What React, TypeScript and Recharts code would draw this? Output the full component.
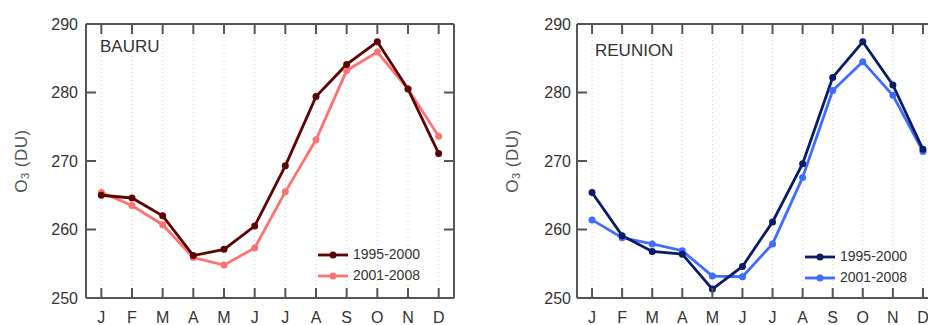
import React from 'react';
import { LineChart, Line, XAxis, YAxis, CartesianGrid, Legend, Label } from 'recharts';

const months = ['J', 'F', 'M', 'A', 'M', 'J', 'J', 'A', 'S', 'O', 'N', 'D'];
const yTicks = [250, 260, 270, 280, 290];
const periods = ['1995-2000', '2001-2008'];

const bauru1995 = [265.0, 264.6, 262.0, 256.2, 257.1, 260.5, 269.3, 279.4, 284.1, 287.4, 280.5, 271.1];
const bauru2001 = [265.4, 263.5, 260.7, 255.9, 254.8, 257.3, 265.5, 273.1, 283.2, 285.9, 280.5, 273.6];
const reunion1995 = [265.4, 259.1, 256.8, 256.4, 251.3, 254.6, 261.1, 269.6, 282.2, 287.4, 281.1, 271.7];
const reunion2001 = [261.4, 258.8, 257.9, 256.9, 253.2, 253.1, 257.9, 267.6, 280.3, 284.5, 279.6, 271.4];

const FONT = '"Liberation Sans", Arial, sans-serif';
const AX = '#555';
const TXT = '#333';
const TS = 6;
const TM = 2;
const IN = 10;

const BottomTick = (props: any) => {
  const { x, y, payload } = props;
  const base = y - TS - TM;
  return (
    <g>
      <line x1={x} x2={x} y1={base} y2={base - IN} stroke={AX} strokeWidth={2} />
      <text x={x} y={base + 25} textAnchor="middle" fontSize={16} fill={TXT} fontFamily={FONT}>
        {months[payload.value]}
      </text>
    </g>
  );
};

const TopTick = (props: any) => {
  const { x, y } = props;
  const base = y + TS + TM;
  return <line x1={x} x2={x} y1={base} y2={base + IN} stroke={AX} strokeWidth={2} />;
};

const makeLeftTick = (gap: number) => (props: any) => {
  const { x, y, payload } = props;
  const base = x + TS + TM;
  return (
    <g>
      <line x1={base} x2={base + IN} y1={y} y2={y} stroke={AX} strokeWidth={2} />
      <text x={base - gap} y={y} dy="0.36em" textAnchor="end" fontSize={16} fill={TXT} fontFamily={FONT}>
        {payload.value}
      </text>
    </g>
  );
};

const RightTick = (props: any) => {
  const { x, y } = props;
  const base = x - TS - TM;
  return <line x1={base} x2={base - IN} y1={y} y2={y} stroke={AX} strokeWidth={2} />;
};

const YLab = (props: any) => {
  const vb = props.viewBox || { x: 0, y: 24, width: 86, height: 274 };
  const cx = vb.x + 21;
  const cy = vb.y + vb.height / 2;
  return (
    <text
      x={cx}
      y={cy}
      transform={`rotate(-90 ${cx} ${cy})`}
      textAnchor="middle"
      dominantBaseline="central"
      fontSize={17}
      letterSpacing={0.5}
      fill="#555"
      fontFamily={FONT}
    >
      O<tspan fontSize={11} dy={4}>3</tspan>
      <tspan dy={-4}> (DU)</tspan>
    </text>
  );
};

const LegendContent = (props: any) => {
  const items = [...(props.payload || [])].sort((a: any, b: any) =>
    String(a.value).localeCompare(String(b.value))
  );
  return (
    <div style={{ fontFamily: FONT, fontSize: 14, color: TXT }}>
      {items.map((p: any) => (
        <div key={p.value} style={{ display: 'flex', alignItems: 'center', height: 21 }}>
          <svg width={30} height={10} style={{ display: 'block' }}>
            <line x1={0} x2={30} y1={5} y2={5} stroke={p.color} strokeWidth={2.8} />
            <circle cx={15} cy={5} r={3.5} fill={p.color} />
          </svg>
          <span style={{ marginLeft: 5, lineHeight: '21px' }}>{p.value}</span>
        </div>
      ))}
    </div>
  );
};

type PanelProps = {
  left: number;
  plotWidth: number;
  name: string;
  nameTop: number;
  nameLeft: number;
  s1: number[];
  s2: number[];
  c1: string;
  c2: string;
  legendLeft: number;
  legendTop: number;
  tickGap: number;
};

const Panel = (p: PanelProps) => {
  const data = months.map((m, i) => ({ i, a: p.s1[i], b: p.s2[i] }));
  const yw = 86;
  const rw = 10;
  const width = yw + p.plotWidth + rw;
  const pad = p.plotWidth / 24;
  return (
    <div style={{ position: 'absolute', left: p.left, top: 0, width, height: 325 }}>
      <LineChart width={width} height={325} data={data} margin={{ top: 0, right: 0, bottom: 0, left: 0 }}>
        <CartesianGrid horizontal={false} stroke="#cfcfcf" strokeDasharray="1 3" />
        <XAxis
          dataKey="i"
          type="category"
          height={27}
          interval={0}
          padding={{ left: pad, right: pad }}
          tickSize={TS}
          tickMargin={TM}
          tickLine={false}
          tick={BottomTick}
          axisLine={{ stroke: AX, strokeWidth: 2 }}
        />
        <XAxis
          xAxisId="top"
          dataKey="i"
          type="category"
          orientation="top"
          height={24}
          interval={0}
          padding={{ left: pad, right: pad }}
          tickSize={TS}
          tickMargin={TM}
          tickLine={false}
          tick={TopTick}
          axisLine={{ stroke: AX, strokeWidth: 2 }}
        />
        <YAxis
          width={yw}
          domain={[250, 290]}
          ticks={yTicks}
          interval={0}
          allowDataOverflow
          tickSize={TS}
          tickMargin={TM}
          tickLine={false}
          tick={makeLeftTick(p.tickGap)}
          axisLine={{ stroke: AX, strokeWidth: 2 }}
        >
          <Label content={YLab} />
        </YAxis>
        <YAxis
          yAxisId="r"
          orientation="right"
          width={rw}
          domain={[250, 290]}
          ticks={yTicks}
          interval={0}
          allowDataOverflow
          tickSize={TS}
          tickMargin={TM}
          tickLine={false}
          tick={RightTick}
          axisLine={{ stroke: AX, strokeWidth: 2 }}
        />
        <Legend
          layout="vertical"
          align="center"
          verticalAlign="middle"
          content={LegendContent}
          wrapperStyle={{ position: 'absolute', left: p.legendLeft, top: p.legendTop, width: 'auto' }}
        />
        <Line
          dataKey="b"
          name={periods[1]}
          stroke={p.c2}
          strokeWidth={2.8}
          dot={{ r: 3.5, fill: p.c2, stroke: p.c2, strokeWidth: 0 }}
          isAnimationActive={false}
        />
        <Line
          dataKey="a"
          name={periods[0]}
          stroke={p.c1}
          strokeWidth={2.8}
          dot={{ r: 3.5, fill: p.c1, stroke: p.c1, strokeWidth: 0 }}
          isAnimationActive={false}
        />
      </LineChart>
      <div
        style={{
          position: 'absolute',
          left: p.nameLeft,
          top: p.nameTop,
          fontFamily: FONT,
          fontSize: 17,
          lineHeight: '17px',
          color: TXT,
          pointerEvents: 'none',
        }}
      >
        {p.name}
      </div>
    </div>
  );
};

export default function App() {
  return (
    <div
      style={{
        position: 'absolute',
        left: 0,
        top: 0,
        width: 928,
        height: 325,
        overflow: 'hidden',
        background: '#fff',
      }}
    >
      <Panel
        left={0}
        plotWidth={368}
        name="BAURU"
        nameLeft={100}
        nameTop={38}
        s1={bauru1995}
        s2={bauru2001}
        c1="#5c0505"
        c2="#ff7272"
        legendLeft={318}
        legendTop={244}
        tickGap={8}
      />
      <Panel
        left={491}
        plotWidth={361}
        name="REUNION"
        nameLeft={104}
        nameTop={42}
        s1={reunion1995}
        s2={reunion2001}
        c1="#0b1c66"
        c2="#3f6dff"
        legendLeft={314}
        legendTop={246}
        tickGap={6}
      />
    </div>
  );
}
